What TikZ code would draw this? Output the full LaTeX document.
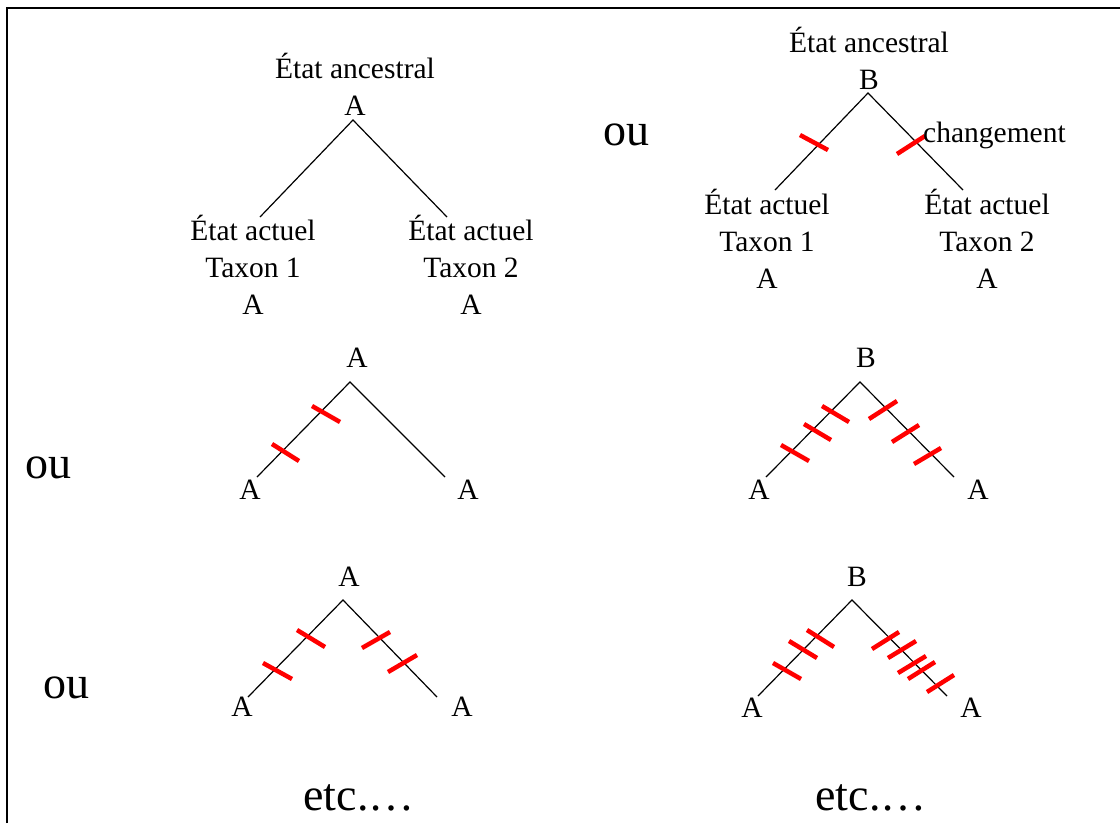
\documentclass[tikz,border=0pt]{standalone}
\usepackage{fontspec}
\setmainfont{Liberation Serif}
\begin{document}
\begin{tikzpicture}[x=1pt,y=-1pt,
  lbl/.style={font=\fontsize{29.5}{37}\selectfont, inner sep=0pt, align=center},
  big/.style={font=\fontsize{46}{50}\selectfont, inner sep=0pt},
  branch/.style={line width=1.2pt},
  chg/.style={red, line width=4.5pt},
  frame/.style={line width=2.5pt}]
\useasboundingbox (0,0) rectangle (1120,823);
\draw[frame] (7,823) -- (7,8) -- (1120,8);

% ---------- top left ----------
\node[lbl] (tl-root) at (355,84) {État ancestral\\A};
\coordinate (tl-apex) at (353,120);
\coordinate (tl-e1) at (260,217);
\coordinate (tl-e2) at (447,217);
\node[lbl] (tl-t1) at (253,265) {État actuel\\Taxon 1\\A};
\node[lbl] (tl-t2) at (471,265) {État actuel\\Taxon 2\\A};
\draw[branch] (tl-e1) -- (tl-apex) -- (tl-e2);

% ---------- top right ----------
\node[big] (ou1) at (626,135) {ou};
\node[lbl] (tr-root) at (869,58) {État ancestral\\B};
\coordinate (tr-apex) at (868,93);
\coordinate (tr-e1) at (775,190);
\coordinate (tr-e2) at (963,190);
\node[lbl] (tr-t1) at (767,239) {État actuel\\Taxon 1\\A};
\node[lbl] (tr-t2) at (987,239) {État actuel\\Taxon 2\\A};
\draw[branch] (tr-e1) -- (tr-apex) -- (tr-e2);
\draw[chg] (800,135) -- (828,150);
\draw[chg] (897,154) -- (925,136);
\node[lbl, anchor=west] (chlabel) at (923,135) {changement};

% ---------- middle left ----------
\node[big] (ou2) at (48,468) {ou};
\node[lbl] (ml-root) at (357,358) {A};
\coordinate (ml-apex) at (350,382);
\coordinate (ml-e1) at (257,477);
\coordinate (ml-e2) at (445,477);
\node[lbl] (ml-t1) at (250,490) {A};
\node[lbl] (ml-t2) at (468,490) {A};
\draw[branch] (ml-e1) -- (ml-apex) -- (ml-e2);
\draw[chg] (312,406) -- (340,422);
\draw[chg] (272,444) -- (299,461);

% ---------- middle right ----------
\node[lbl] (mr-root) at (866,358) {B};
\coordinate (mr-apex) at (860,382);
\coordinate (mr-e1) at (766,477);
\coordinate (mr-e2) at (954,477);
\node[lbl] (mr-t1) at (759,490) {A};
\node[lbl] (mr-t2) at (978,490) {A};
\draw[branch] (mr-e1) -- (mr-apex) -- (mr-e2);
\draw[chg] (822,406) -- (849,422);
\draw[chg] (804,424) -- (831,440);
\draw[chg] (781,445) -- (809,461);
\draw[chg] (869,419) -- (897,401);
\draw[chg] (892,442) -- (919,425);
\draw[chg] (914,464) -- (941,448);

% ---------- bottom left ----------
\node[big] (ou3) at (66,688) {ou};
\node[lbl] (bl-root) at (349,577) {A};
\coordinate (bl-apex) at (343,600);
\coordinate (bl-e1) at (248,697);
\coordinate (bl-e2) at (437,697);
\node[lbl] (bl-t1) at (242,707) {A};
\node[lbl] (bl-t2) at (462,707) {A};
\draw[branch] (bl-e1) -- (bl-apex) -- (bl-e2);
\draw[chg] (297,630) -- (325,647);
\draw[chg] (263,663) -- (292,679);
\draw[chg] (362,648) -- (390,632);
\draw[chg] (388,672) -- (417,655);

% ---------- bottom right ----------
\node[lbl] (br-root) at (857,577) {B};
\coordinate (br-apex) at (852,600);
\coordinate (br-e1) at (758,696);
\coordinate (br-e2) at (947,696);
\node[lbl] (br-t1) at (752,708) {A};
\node[lbl] (br-t2) at (971,708) {A};
\draw[branch] (br-e1) -- (br-apex) -- (br-e2);
\draw[chg] (807,630) -- (834,647);
\draw[chg] (789,641) -- (817,658);
\draw[chg] (773,663) -- (801,679);
\draw[chg] (872,649) -- (899,632);
\draw[chg] (888,658) -- (916,641);
\draw[chg] (898,673) -- (926,656);
\draw[chg] (908,679) -- (935,662);
\draw[chg] (927,692) -- (954,675);

% ---------- etc ----------
\node[big] (etc1) at (359,798) {etc.…};
\node[big] (etc2) at (871,798) {etc.…};
\end{tikzpicture}
\end{document}
